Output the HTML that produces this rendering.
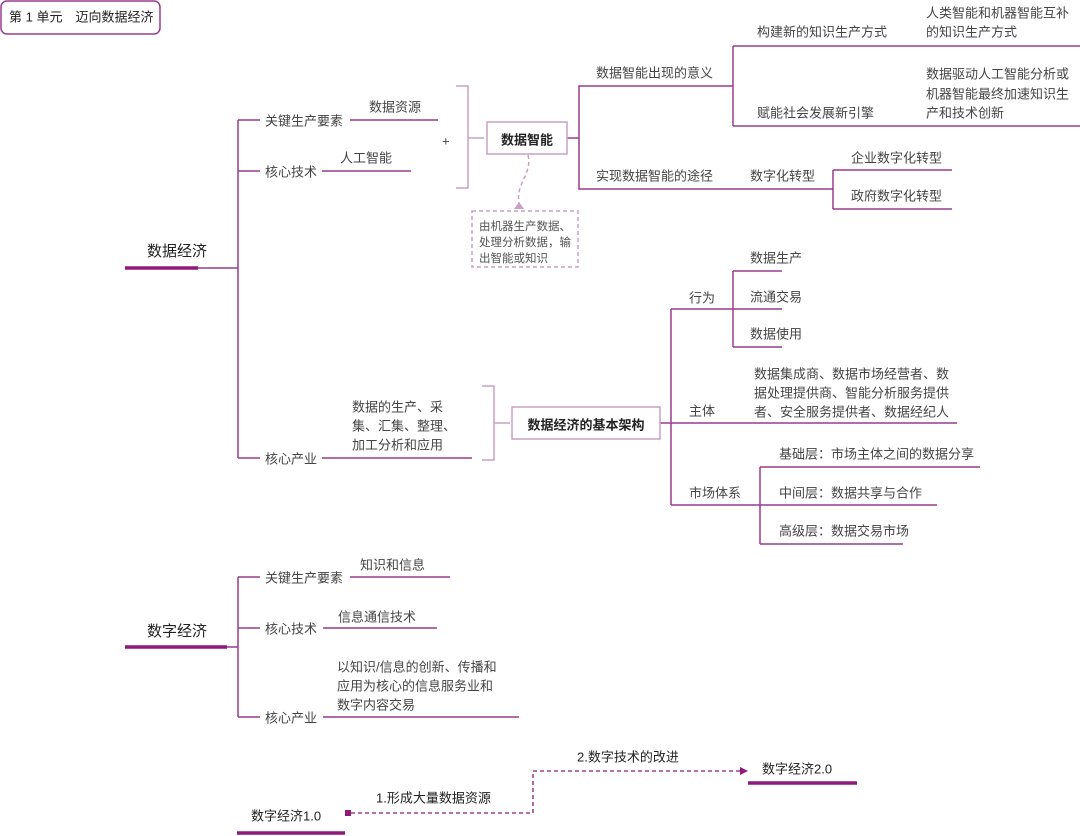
<!DOCTYPE html>
<html><head><meta charset="utf-8"><style>
html,body{margin:0;padding:0;background:#fff;}
svg{display:block;font-family:"Liberation Sans","Noto Sans CJK SC",sans-serif;}
text{fill:#444;font-size:13px;dominant-baseline:middle;transform:translateY(2px);}
.b{fill:#222;font-weight:bold;}
.big{font-size:15px;fill:#222;}
.s{font-size:11.5px;fill:#555;}
</style></head><body>
<svg width="1080" height="836" viewBox="0 0 1080 836">
<g fill="none" stroke="#9a3b8e" stroke-width="1.5">
<line x1="125" y1="268" x2="198" y2="268" stroke="#8e1a7c" stroke-width="3.5"/>
<polyline points="198,268 238,268"/>
<line x1="238" y1="120" x2="238" y2="458"/>
<line x1="238" y1="120" x2="260" y2="120"/>
<line x1="350" y1="120" x2="438" y2="120"/>
<line x1="238" y1="171" x2="260" y2="171"/>
<line x1="322" y1="171" x2="411" y2="171"/>
<line x1="238" y1="458" x2="260" y2="458"/>
<line x1="322" y1="458" x2="472" y2="458"/>
<line x1="567" y1="138" x2="579" y2="138"/>
<polyline points="733,86 579,86 579,189 833,189"/>
<line x1="733" y1="46" x2="733" y2="126"/>
<line x1="733" y1="46" x2="1080" y2="46"/>
<line x1="733" y1="126" x2="1080" y2="126"/>
<line x1="833" y1="170" x2="833" y2="209"/>
<line x1="833" y1="170" x2="952" y2="170"/>
<line x1="833" y1="209" x2="952" y2="209"/>
<line x1="660" y1="423" x2="957" y2="423"/>
<line x1="671" y1="309" x2="671" y2="505"/>
<line x1="671" y1="309" x2="782" y2="309"/>
<line x1="733" y1="271" x2="733" y2="347"/>
<line x1="733" y1="271" x2="782" y2="271"/>
<line x1="733" y1="347" x2="782" y2="347"/>
<line x1="671" y1="505" x2="937" y2="505"/>
<line x1="760" y1="467" x2="760" y2="544"/>
<line x1="760" y1="467" x2="980" y2="467"/>
<line x1="760" y1="544" x2="903" y2="544"/>
<line x1="125" y1="647" x2="227" y2="647" stroke="#8e1a7c" stroke-width="3.5"/>
<line x1="227" y1="647" x2="238" y2="647"/>
<line x1="238" y1="577" x2="238" y2="717"/>
<line x1="238" y1="577" x2="260" y2="577"/>
<line x1="350" y1="577" x2="450" y2="577"/>
<line x1="238" y1="628" x2="260" y2="628"/>
<line x1="323" y1="628" x2="437" y2="628"/>
<line x1="238" y1="717" x2="260" y2="717"/>
<line x1="323" y1="717" x2="519" y2="717"/>
</g>
<g fill="none" stroke="#c9a0c4" stroke-width="1.5">
<polyline points="456,86 468,86 468,188 456,188"/>
<line x1="468" y1="138" x2="484" y2="138"/>
<polyline points="482,386 494,386 494,460 482,460"/>
<line x1="494" y1="423" x2="510" y2="423"/>
<rect x="487" y="122" width="80" height="32" fill="#fff"/>
<rect x="512" y="407" width="148" height="32" fill="#fff"/>
<path d="M528,155 C533,175 513,185 520,207" stroke-dasharray="4,3"/>
<rect x="472" y="211" width="106" height="56" stroke-dasharray="4,3"/>
</g>
<polygon points="514,209 524,209 519,202" fill="#c9a0c4"/>
<rect x="1" y="1" width="159" height="33" rx="6" fill="none" stroke="#9a3b8e" stroke-width="1.5"/>
<line x1="237" y1="833" x2="345" y2="833" stroke="#8e1a7c" stroke-width="3.5"/>
<line x1="748" y1="783" x2="857" y2="783" stroke="#8e1a7c" stroke-width="3.5"/>
<rect x="345" y="810" width="6" height="6" fill="#8e1a7c"/>
<polyline points="351,813 533,813 533,771 741,771" fill="none" stroke="#8e1a7c" stroke-width="1.3" stroke-dasharray="4,3"/>
<polygon points="740,767 748,771 740,775" fill="#8e1a7c"/>

<text x="9" y="16" style="fill:#222">第 1 单元　迈向数据经济</text>
<text x="147" y="250" class="big">数据经济</text>
<text x="265" y="120">关键生产要素</text>
<text x="369" y="106">数据资源</text>
<text x="265" y="171">核心技术</text>
<text x="340" y="157">人工智能</text>
<text x="442" y="140">+</text>
<text x="527" y="139" text-anchor="middle" class="b">数据智能</text>
<text x="596" y="72">数据智能出现的意义</text>
<text x="757" y="31">构建新的知识生产方式</text>
<text x="926" y="12">人类智能和机器智能互补</text>
<text x="926" y="31">的知识生产方式</text>
<text x="757" y="112">赋能社会发展新引擎</text>
<text x="926" y="73">数据驱动人工智能分析或</text>
<text x="926" y="93">机器智能最终加速知识生</text>
<text x="926" y="112">产和技术创新</text>
<text x="596" y="175">实现数据智能的途径</text>
<text x="750" y="175">数字化转型</text>
<text x="851" y="157">企业数字化转型</text>
<text x="851" y="195">政府数字化转型</text>
<text x="479" y="225" class="s">由机器生产数据、</text>
<text x="479" y="241" class="s">处理分析数据，输</text>
<text x="479" y="257" class="s">出智能或知识</text>
<text x="265" y="458">核心产业</text>
<text x="352" y="406">数据的生产、采</text>
<text x="352" y="425">集、汇集、整理、</text>
<text x="352" y="444">加工分析和应用</text>
<text x="586" y="424" text-anchor="middle" class="b">数据经济的基本架构</text>
<text x="689" y="297">行为</text>
<text x="750" y="257">数据生产</text>
<text x="750" y="296">流通交易</text>
<text x="750" y="333">数据使用</text>
<text x="689" y="410">主体</text>
<text x="754" y="373">数据集成商、数据市场经营者、数</text>
<text x="754" y="392">据处理提供商、智能分析服务提供</text>
<text x="754" y="411">者、安全服务提供者、数据经纪人</text>
<text x="689" y="492">市场体系</text>
<text x="779" y="453">基础层：市场主体之间的数据分享</text>
<text x="779" y="492">中间层：数据共享与合作</text>
<text x="779" y="530">高级层：数据交易市场</text>

<text x="147" y="630" class="big">数字经济</text>
<text x="265" y="577">关键生产要素</text>
<text x="360" y="564">知识和信息</text>
<text x="265" y="628">核心技术</text>
<text x="338" y="616">信息通信技术</text>
<text x="265" y="717">核心产业</text>
<text x="337" y="666">以知识/信息的创新、传播和</text>
<text x="337" y="685">应用为核心的信息服务业和</text>
<text x="337" y="704">数字内容交易</text>

<text x="251" y="815" style="fill:#222">数字经济1.0</text>
<text x="376" y="797" style="fill:#222">1.形成大量数据资源</text>
<text x="577" y="756" style="fill:#222">2.数字技术的改进</text>
<text x="762" y="768" style="fill:#222">数字经济2.0</text>
</svg>
</body></html>
